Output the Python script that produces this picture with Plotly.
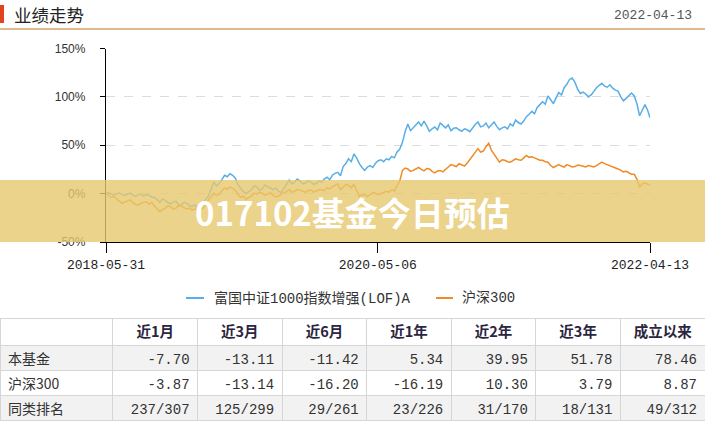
import plotly.graph_objects as go

W, H = 705, 422

# ---------------- data (weekly readings) ----------------
dates = [
    "2018-05-31", "2018-06-07", "2018-06-14", "2018-06-21", "2018-06-28", "2018-07-05", "2018-07-12",
    "2018-07-19", "2018-07-26", "2018-08-02", "2018-08-09", "2018-08-16", "2018-08-23", "2018-08-30",
    "2018-09-06", "2018-09-13", "2018-09-20", "2018-09-27", "2018-10-04", "2018-10-11", "2018-10-18",
    "2018-10-25", "2018-11-01", "2018-11-08", "2018-11-15", "2018-11-22", "2018-11-29", "2018-12-06",
    "2018-12-13", "2018-12-20", "2018-12-27",
    "2019-01-03", "2019-01-10", "2019-01-17", "2019-01-24", "2019-01-31", "2019-02-07", "2019-02-14",
    "2019-02-21", "2019-02-28", "2019-03-07", "2019-03-14", "2019-03-21", "2019-03-28", "2019-04-04",
    "2019-04-11", "2019-04-18", "2019-04-25", "2019-05-02", "2019-05-09", "2019-05-16", "2019-05-23",
    "2019-05-30", "2019-06-06", "2019-06-13", "2019-06-20", "2019-06-27", "2019-07-04", "2019-07-11",
    "2019-07-18", "2019-07-25", "2019-08-01", "2019-08-08", "2019-08-15", "2019-08-22", "2019-08-29",
    "2019-09-05", "2019-09-12", "2019-09-19", "2019-09-26", "2019-10-03", "2019-10-10", "2019-10-17",
    "2019-10-24", "2019-10-31", "2019-11-07", "2019-11-14", "2019-11-21", "2019-11-28", "2019-12-05",
    "2019-12-12", "2019-12-19", "2019-12-26",
    "2020-01-02", "2020-01-09", "2020-01-16", "2020-01-23", "2020-01-30", "2020-02-06", "2020-02-13",
    "2020-02-20", "2020-02-27", "2020-03-05", "2020-03-12", "2020-03-19", "2020-03-26", "2020-04-02",
    "2020-04-09", "2020-04-16", "2020-04-23", "2020-04-30", "2020-05-07", "2020-05-14", "2020-05-21",
    "2020-05-28", "2020-06-04", "2020-06-11", "2020-06-18", "2020-06-25", "2020-07-02", "2020-07-09",
    "2020-07-16", "2020-07-23", "2020-07-30", "2020-08-06", "2020-08-13", "2020-08-20", "2020-08-27",
    "2020-09-03", "2020-09-10", "2020-09-17", "2020-09-24", "2020-10-01", "2020-10-08", "2020-10-15",
    "2020-10-22", "2020-10-29", "2020-11-05", "2020-11-12", "2020-11-19", "2020-11-26", "2020-12-03",
    "2020-12-10", "2020-12-17", "2020-12-24", "2020-12-31",
    "2021-01-07", "2021-01-14", "2021-01-21", "2021-01-28", "2021-02-04", "2021-02-11", "2021-02-18",
    "2021-02-25", "2021-03-04", "2021-03-11", "2021-03-18", "2021-03-25", "2021-04-01", "2021-04-08",
    "2021-04-15", "2021-04-22", "2021-04-29", "2021-05-06", "2021-05-13", "2021-05-20", "2021-05-27",
    "2021-06-03", "2021-06-10", "2021-06-17", "2021-06-24", "2021-07-01", "2021-07-08", "2021-07-15",
    "2021-07-22", "2021-07-29", "2021-08-05", "2021-08-12", "2021-08-19", "2021-08-26", "2021-09-02",
    "2021-09-09", "2021-09-16", "2021-09-23", "2021-09-30", "2021-10-07", "2021-10-14", "2021-10-21",
    "2021-10-28", "2021-11-04", "2021-11-11", "2021-11-18", "2021-11-25", "2021-12-02", "2021-12-09",
    "2021-12-16", "2021-12-23", "2021-12-30",
    "2022-01-06", "2022-01-13", "2022-01-20", "2022-01-27", "2022-02-03", "2022-02-10", "2022-02-17",
    "2022-02-24", "2022-03-03", "2022-03-10", "2022-03-17", "2022-03-24", "2022-03-31", "2022-04-07",
    "2022-04-13",
]

fund = [
    0.0, 1.0, -0.5, -1.5, 0.0, 0.5, -0.8, -2.0, -0.5, 0.5,
    -1.5, -3.0, -1.0, -0.5, -2.5, -1.0, -2.0, -3.5, -4.0, -6.5,
    -9.0, -5.5, -7.0, -9.5, -10.5, -8.5, -8.0, -12.0, -11.5, -9.0,
    -10.0, -12.5, -13.5, -11.5, -15.0, -13.0, -10.0, -6.0, -2.5, 5.0,
    12.0, 8.0, 10.5, 14.5, 19.0, 17.5, 20.5, 19.0, 16.0, 9.0,
    5.0, 2.0, 0.0, 2.5, 4.0, 8.0, 7.0, 3.5, 5.0, 9.0,
    7.5, 5.5, 4.0, 6.0, 2.5, 1.0, 5.0, 9.5, 14.0, 10.0,
    12.0, 15.0, 13.0, 10.0, 11.0, 13.5, 12.0, 9.5, 10.5, 13.0,
    12.0, 15.0, 17.0, 14.5, 19.0, 21.0, 22.0, 18.5, 28.0, 31.0,
    36.0, 33.0, 41.0, 37.0, 31.0, 27.0, 24.0, 27.5, 29.0, 27.0,
    31.5, 34.0, 35.0, 33.0, 36.0, 35.0, 38.5, 37.0, 43.0, 46.0,
    53.0, 64.0, 72.0, 65.0, 68.0, 71.0, 74.0, 70.0, 75.0, 70.0,
    64.5, 67.0, 69.0, 66.0, 73.0, 70.5, 68.0, 71.0, 65.0, 67.5,
    68.0, 66.0, 64.5, 67.0, 66.0, 64.0, 68.0, 71.5, 74.0, 69.0,
    70.0, 73.0, 68.0, 71.0, 74.0, 69.5, 66.0, 68.0, 69.0, 67.0,
    72.0, 70.0, 76.0, 73.5, 72.0, 75.0, 79.5, 82.0, 85.0, 82.5,
    89.0, 92.0, 95.0, 92.5, 101.0, 97.0, 93.0, 99.0, 104.5, 102.0,
    109.5, 113.0, 118.0, 119.5, 115.0, 108.0, 103.5, 105.0, 103.0, 100.0,
    102.0, 105.5, 109.5, 112.0, 114.0, 111.0, 110.0, 112.5, 109.0, 107.0,
    106.0, 100.0, 96.0, 98.5, 101.0, 104.0, 101.0, 93.0, 80.5, 86.0,
    92.0, 86.0, 78.46,
]

hs300 = [
    0.0, -2.0, -4.0, -3.0, -6.0, -8.0, -10.0, -8.5, -7.5, -6.5,
    -9.5, -11.0, -12.0, -10.0, -9.5, -8.5, -11.0, -9.0, -13.0, -15.5,
    -18.5, -16.5, -15.0, -12.5, -13.5, -16.0, -15.0, -12.5, -13.0, -14.5,
    -16.0, -15.0, -17.0, -15.5, -18.5, -16.5, -15.0, -11.0, -6.5, -3.5,
    0.5, -2.0, -0.5, 3.0, 6.0, 4.5, 7.0, 5.5, 3.5, -1.0,
    -4.0, -2.5, -6.0, -4.0, -2.5, 0.5, -0.5, 1.5, 0.5, -1.5,
    -0.5, 1.0, -1.5, -3.5, -2.5, -0.5, 0.5, 2.5, 4.0, 1.5,
    2.5, 4.5, 3.5, 2.0, 1.5, 3.0, 4.0, 1.5, 2.5, 4.0,
    4.0, 3.0, 6.0, 5.0, 7.0, 8.5, 10.0, 4.0, 7.0, 9.5,
    8.5, 6.0, 10.0, 4.0, -3.0, -1.0, -1.5, -3.0, -0.5, 1.0,
    0.5, -1.0, 0.0, 1.5, 2.5, 1.5, 4.0, 3.0, 7.5, 13.0,
    24.0, 26.5, 25.5, 23.0, 24.0, 25.5, 27.0, 25.0, 23.5, 26.0,
    25.5, 23.0, 21.5, 23.5, 24.0, 22.5, 25.5, 27.5, 30.0, 29.0,
    28.0, 31.0, 30.0, 28.5, 31.5, 35.0, 39.5, 43.0, 46.5, 43.0,
    44.0, 48.5, 52.0, 45.0, 41.0, 36.0, 32.5, 35.0, 34.5, 33.0,
    32.5, 34.0, 36.0, 35.0, 34.5, 37.0, 39.5, 37.5, 38.0, 37.0,
    36.0, 34.5, 34.5, 33.0, 32.5, 29.0, 27.0, 28.5, 30.0, 28.5,
    27.5, 30.0, 29.0, 27.5, 28.0, 29.5, 29.0, 28.0, 27.5, 29.0,
    28.0, 27.5, 29.0, 30.5, 32.5, 31.0, 30.0, 29.0, 28.0, 26.5,
    25.5, 24.0, 22.5, 23.0, 21.5, 20.0, 20.0, 15.0, 7.0, 10.0,
    11.0, 9.5, 8.87,
]

x_tick_vals = ["2018-05-31", "2020-05-06", "2022-04-13"]
y_tick_vals = [-50, 0, 50, 100, 150]
y_tick_text = ["-50%", "0%", "50%", "100%", "150%"]

fund_name = "富国中证1000指数增强(LOF)A"
bench_name = "沪深300"

periods = ["近1月", "近3月", "近6月", "近1年", "近2年", "近3年", "成立以来"]
row_labels = ["本基金", "沪深300", "同类排名"]
fund_returns = ["-7.70", "-13.11", "-11.42", "5.34", "39.95", "51.78", "78.46"]
bench_returns = ["-3.87", "-13.14", "-16.20", "-16.19", "10.30", "3.79", "8.87"]
peer_rank = ["237/307", "125/299", "29/261", "23/226", "31/170", "18/131", "49/312"]

title_text = "业绩走势"
date_text = "2022-04-13"
banner_text = "017102基金今日预估"

BLUE = "#58aee6"
ORANGE = "#f08a24"

# ---------------- helpers ----------------
def px(x):
    return x / W

def py(y):
    return 1 - y / H

CJK = "Noto Sans CJK SC, sans-serif"
MONO = "Liberation Mono, Noto Sans CJK SC, monospace"

fig = go.Figure()

fig.add_trace(go.Scatter(x=dates, y=fund, mode="lines", name=fund_name,
                         line=dict(color=BLUE, width=1.5), showlegend=False, hoverinfo="skip"))
fig.add_trace(go.Scatter(x=dates, y=hs300, mode="lines", name=bench_name,
                         line=dict(color=ORANGE, width=1.5), showlegend=False, hoverinfo="skip"))

# ---------------- table ----------------
header_vals = [""] + periods
cell_cols = [row_labels] + [[fund_returns[i], bench_returns[i], peer_rank[i]] for i in range(len(periods))]
row_fill = ["#f2f2f2", "#ffffff", "#f2f2f2"]

fig.add_trace(go.Table(
    domain=dict(x=[0, 1], y=[0, py(318)]),
    columnwidth=[113] + [84.6] * 7,
    header=dict(values=header_vals, height=27,
                fill_color="#ffffff",
                line=dict(color="#d6d6d6", width=1),
                align="center",
                font=dict(family=CJK, size=14.5, color="#2b2540", weight="bold")),
    cells=dict(values=cell_cols, height=25,
               fill_color=[row_fill] * 8,
               line=dict(color="#d6d6d6", width=1),
               align=["left"] + ["right"] * 7,
               font=dict(family=[CJK] + [MONO] * 7, size=14, color="#333333")),
))

# ---------------- axes ----------------
fig.update_layout(
    template="none",
    width=W, height=H, autosize=False,
    margin=dict(l=0, r=0, t=0, b=0, pad=0, autoexpand=False),
    paper_bgcolor="white", plot_bgcolor="white",
    showlegend=False,
    xaxis=dict(
        type="date", domain=[px(106), px(650)],
        range=["2018-05-31", "2022-04-13"],
        tickmode="array",
        tickvals=x_tick_vals, ticktext=x_tick_vals,
        ticks="outside", ticklen=10, tickcolor="#000", tickwidth=1,
        showline=True, linecolor="#000", linewidth=1.3,
        showgrid=False, zeroline=False, automargin=False,
        tickfont=dict(family=MONO, size=13, color="#222"),
        fixedrange=True,
    ),
    yaxis=dict(
        domain=[py(242), py(48.5)],
        range=[-50, 150],
        tickmode="array",
        tickvals=y_tick_vals, ticktext=y_tick_text,
        ticks="outside", ticklen=5, tickcolor="#000",
        ticklabelstandoff=12,
        showline=True, linecolor="#000", linewidth=1.3,
        showgrid=True, gridcolor="#dcdcdc", griddash="dash", gridwidth=1,
        zeroline=False, automargin=False,
        tickfont=dict(family="Liberation Sans, Arial, sans-serif", size=12, color="#333"),
        fixedrange=True,
    ),
)

shapes = []
annotations = []

# header
shapes.append(dict(type="rect", xref="paper", yref="paper",
                   x0=px(0), x1=px(4), y0=py(23), y1=py(5),
                   fillcolor="#e2431f", line=dict(width=0)))
annotations.append(dict(xref="paper", yref="paper", x=px(12), y=py(15),
                        xanchor="left", yanchor="middle", showarrow=False,
                        text=title_text, font=dict(family=CJK, size=17.5, color="#222")))
annotations.append(dict(xref="paper", yref="paper", x=px(694), y=py(16),
                        xanchor="right", yanchor="middle", showarrow=False,
                        text=date_text, font=dict(family=MONO, size=13, color="#555")))
shapes.append(dict(type="line", xref="paper", yref="paper",
                   x0=0, x1=1, y0=py(29), y1=py(29),
                   line=dict(color="#e0b88e", width=2)))

# legend (manual)
shapes.append(dict(type="line", xref="paper", yref="paper",
                   x0=px(186), x1=px(204), y0=py(298), y1=py(298),
                   line=dict(color=BLUE, width=2)))
annotations.append(dict(xref="paper", yref="paper", x=px(212), y=py(298),
                        xanchor="left", yanchor="middle", showarrow=False,
                        text=fund_name, font=dict(family=MONO, size=14, color="#333")))
shapes.append(dict(type="line", xref="paper", yref="paper",
                   x0=px(436), x1=px(453), y0=py(298), y1=py(298),
                   line=dict(color=ORANGE, width=2)))
annotations.append(dict(xref="paper", yref="paper", x=px(460), y=py(298),
                        xanchor="left", yanchor="middle", showarrow=False,
                        text=bench_name, font=dict(family=MONO, size=14, color="#333")))

# banner overlay
shapes.append(dict(type="rect", xref="paper", yref="paper", layer="above",
                   x0=0, x1=1, y0=py(242), y1=py(180),
                   fillcolor="rgba(230,200,110,0.8)", line=dict(width=0)))
annotations.append(dict(xref="paper", yref="paper", x=px(353), y=py(212),
                        xanchor="center", yanchor="middle", showarrow=False,
                        text="<b>" + banner_text + "</b>",
                        font=dict(family=CJK, size=33, color="white")))

fig.update_layout(shapes=shapes, annotations=annotations)

fig.write_html("out.html")
